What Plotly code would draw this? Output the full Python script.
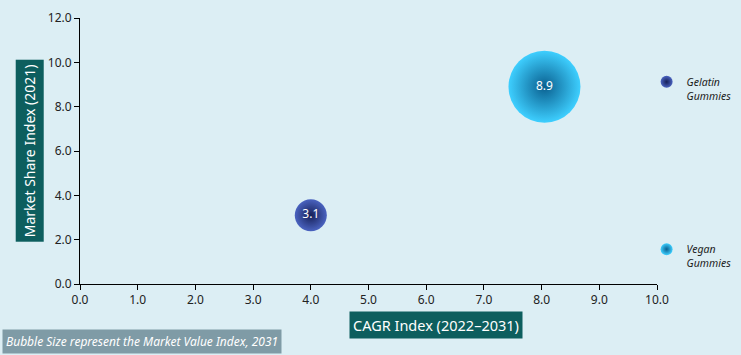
import plotly.graph_objects as go

series = ["Gelatin Gummies", "Vegan Gummies"]
cagr_index = [4.0, 8.05]
market_share = [3.1, 8.9]
market_value = [2.0, 10.1]
labels = ["3.1", "8.9"]
center_colors = ["#4A63C0", "#3ECFFF"]
edge_colors = ["#162058", "#0A6090"]
legend_names = ["<i>Gelatin<br>Gummies</i>", "<i>Vegan<br>Gummies</i>"]
x_ticks = [0, 1, 2, 3, 4, 5, 6, 7, 8, 9, 10]
y_ticks = [0, 2, 4, 6, 8, 10, 12]

bg = "#DCEEF4"
font = "Noto Sans"
sizeref = 2.0 * max(market_value) / (72 ** 2)

fig = go.Figure()
for i in range(len(series)):
    fig.add_trace(go.Scatter(
        x=[cagr_index[i]], y=[market_share[i]],
        mode="markers+text",
        name=legend_names[i],
        legendgroup=series[i],
        text=[labels[i]],
        textposition="middle center",
        textfont=dict(color="white", size=12, family=font),
        marker=dict(
            size=[market_value[i]], sizemode="area", sizeref=sizeref,
            color=center_colors[i], opacity=1,
            gradient=dict(type="radial", color=edge_colors[i]),
            line=dict(width=0),
        ),
        hoverinfo="skip",
    ))

fig.update_layout(
    width=741, height=355,
    paper_bgcolor=bg, plot_bgcolor=bg,
    margin=dict(l=80, r=84, t=18, b=71, autoexpand=False),
    font=dict(family=font, size=12, color="#222222"),
    showlegend=True,
    legend=dict(
        x=0.982, xanchor="left", y=0.81, yanchor="top",
        bgcolor="rgba(0,0,0,0)",
        itemsizing="constant",
        tracegroupgap=137,
        valign="top",
        font=dict(size=10.5, family=font, color="#222222"),
        itemwidth=30,
    ),
    xaxis=dict(
        range=[0, 10], tickvals=x_ticks,
        ticktext=[f"{v:.1f}" for v in x_ticks],
        showgrid=False, zeroline=False,
        showline=True, linecolor="black", linewidth=1,
        ticks="outside", ticklen=5, tickcolor="black",
        tickfont=dict(size=12),
    ),
    yaxis=dict(
        range=[0, 12], tickvals=y_ticks,
        ticktext=[f"{v:.1f}" for v in y_ticks],
        showgrid=False, zeroline=False,
        showline=True, linecolor="black", linewidth=1,
        ticks="outside", ticklen=5, tickcolor="black",
        tickfont=dict(size=12),
    ),
    annotations=[
        dict(text="Market Share Index (2021)", textangle=-90,
             xref="paper", yref="paper", x=-0.088, y=0.5,
             xanchor="center", yanchor="middle", showarrow=False,
             font=dict(color="white", size=14, family=font),
             bgcolor="#0D5E5E", borderpad=4),
        dict(text="CAGR Index (2022–2031)",
             xref="paper", yref="paper", x=0.617, y=-0.154,
             xanchor="center", yanchor="middle", showarrow=False,
             font=dict(color="white", size=14.5, family=font),
             bgcolor="#0D5E5E", borderpad=3),
        dict(text="<i>Bubble Size represent the Market Value Index, 2031</i>",
             xref="paper", yref="paper", x=-0.135, y=-0.218,
             xanchor="left", yanchor="middle", showarrow=False,
             font=dict(color="white", size=12, family=font),
             bgcolor="#7F9BA6", borderpad=3),
    ],
)

fig.write_html("out.html", config={"displayModeBar": False},
               post_script="document.body.style.margin='0';document.body.style.overflow='hidden';")
